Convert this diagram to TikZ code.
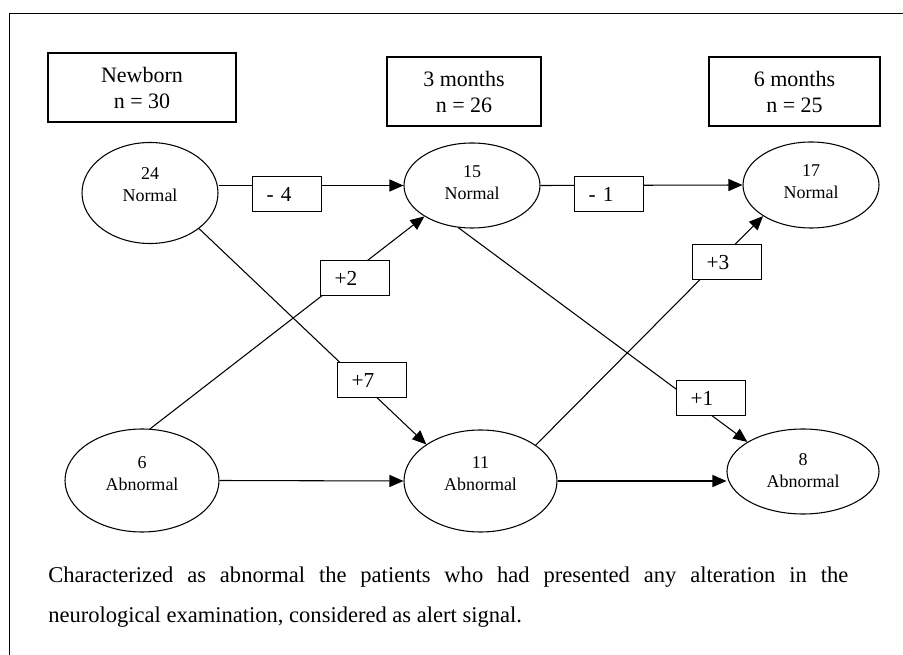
\documentclass[tikz,border=0pt]{standalone}
\usepackage{fontspec}
\setmainfont{Liberation Serif}
\usetikzlibrary{shapes.geometric,arrows.meta}
\begin{document}
\begin{tikzpicture}[x=0.75pt,y=-0.75pt,
  hdr/.style={draw, line width=0.9pt, inner sep=0pt, minimum height=51.75pt, align=center, font=\fontsize{16.5pt}{19.5pt}\selectfont},
  ell/.style={draw, ellipse, line width=0.8pt, inner sep=0pt},
  etxt/.style={align=center, font=\fontsize{13.5pt}{16.5pt}\selectfont, inner sep=0pt},
  lbl/.style={draw, fill=white, line width=0.9pt, anchor=north west, inner xsep=10.5pt, inner ysep=0pt, text width=30.75pt, minimum height=26.25pt, align=left, font=\fontsize{16pt}{19pt}\selectfont},
  arr/.style={line width=0.8pt, -{Triangle[length=10.5pt,width=9pt]}},
]
\useasboundingbox (0,0) rectangle (903,655);
\draw[line width=1pt] (9.5,655) -- (9.5,13.3) -- (903,13.3);

% headers
\node[hdr, minimum width=141pt] (hnb) at (142,87.5) {Newborn\\n = 30};
\node[hdr, minimum width=115.5pt] (h3) at (464,91.5) {3 months\\n = 26};
\node[hdr, minimum width=128.25pt] (h6) at (794.5,91.5) {6 months\\n = 25};

% ellipses
\node[ell, minimum width=102pt, minimum height=75.75pt, label={[etxt, yshift=6pt]center:{24\\Normal}}] (n0) at (150,193) {};
\node[ell, minimum width=102pt, minimum height=63.75pt, label={[etxt, yshift=2.5pt]center:{15\\Normal}}] (n3) at (472,185.5) {};
\node[ell, minimum width=102pt, minimum height=64.5pt, label={[etxt, yshift=2.5pt]center:{17\\Normal}}] (n6) at (811,185) {};
\node[ell, minimum width=115.5pt, minimum height=77.25pt, label={[etxt, yshift=5pt]center:{6\\Abnormal}}] (a0) at (142,480.5) {};
\node[ell, minimum width=114.75pt, minimum height=76.5pt, label={[etxt, yshift=5.5pt]center:{11\\Abnormal}}] (a3) at (480.5,481) {};
\node[ell, minimum width=114pt, minimum height=63.75pt, label={[etxt, yshift=1pt]center:{8\\Abnormal}}] (a6) at (803,471.5) {};

% connectors
\draw[arr] (n0.east |- n3.west) -- (n3.west);
\draw[arr] (n3.east) -- (n6.west);
\draw[arr] (a0.east) -- (a3.west);
\draw[arr] (a3.east) -- (a3.east -| a6.west);
\draw[arr] (n0.-36) -- (a3.146);
\draw[arr] (a0.81) -- (n3.213);
\draw[arr] (n3.252) -- (a6.152);
\draw[arr] (a3.33) -- (n6.213);

% change labels
\node[lbl] (d4) at (252,176) {- 4};
\node[lbl] (d1) at (574,176) {- 1};
\node[lbl] (p2) at (320,260) {+2};
\node[lbl] (p7) at (337,362) {+7};
\node[lbl] (p3) at (692,244) {+3};
\node[lbl] (p1) at (676,380) {+1};

% caption
\node[anchor=base west, inner sep=0pt, text width=600pt, align=justify, font=\fontsize{16.9pt}{30pt}\selectfont] (cap) at (48,582) {Characterized as abnormal the patients who had presented any alteration in the\linebreak neurological examination, considered as alert signal.};
\end{tikzpicture}
\end{document}
